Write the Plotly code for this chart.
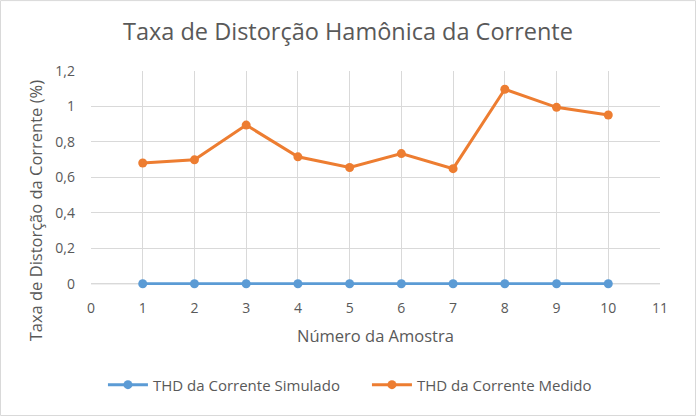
import plotly.graph_objects as go

amostras = [1, 2, 3, 4, 5, 6, 7, 8, 9, 10]
thd_simulado = [0, 0, 0, 0, 0, 0, 0, 0, 0, 0]
thd_medido = [0.681, 0.699, 0.895, 0.716, 0.656, 0.734, 0.649, 1.097, 0.995, 0.952]

FONT = "Open Sans"
GRAY = "#595959"

fig = go.Figure()
fig.add_trace(go.Scatter(x=amostras, y=thd_simulado, mode="lines+markers",
                         name="THD da Corrente Simulado", cliponaxis=False,
                         line=dict(color="#5B9BD5", width=3),
                         marker=dict(color="#5B9BD5", size=9)))
fig.add_trace(go.Scatter(x=amostras, y=thd_medido, mode="lines+markers",
                         name="THD da Corrente Medido", cliponaxis=False,
                         line=dict(color="#ED7D31", width=3),
                         marker=dict(color="#ED7D31", size=9)))

fig.update_layout(
    width=696, height=416,
    margin=dict(l=91, r=36, t=71, b=131, autoexpand=False),
    paper_bgcolor="white", plot_bgcolor="white",
    separators=",.",
    font=dict(family=FONT, color=GRAY, size=14),
    title=dict(text="Taxa de Distorção Hamônica da Corrente", x=0.5, xanchor="center",
               y=0.923, yanchor="middle", font=dict(size=23.5, color=GRAY, family=FONT)),
    xaxis=dict(range=[0, 11], dtick=1, tick0=0, showgrid=True, gridcolor="#D9D9D9",
               gridwidth=1, zeroline=False, showline=False, ticks="",
               tickfont=dict(size=14, color=GRAY), ticklabelstandoff=13),
    yaxis=dict(range=[-0.007, 1.2], dtick=0.2, tick0=0, showgrid=True, gridcolor="#D9D9D9",
               gridwidth=1, zeroline=False, showline=False, ticks="",
               tickfont=dict(size=14, color=GRAY), tickformat="~r", ticklabelstandoff=15),
    legend=dict(orientation="h", x=0.021, xanchor="left", y=-0.467, yanchor="middle",
                font=dict(size=15, color=GRAY), itemwidth=40, tracegroupgap=0,
                entrywidth=209, entrywidthmode="pixels"),
    showlegend=True,
)
fig.add_annotation(text="Número da Amostra", xref="paper", yref="paper", x=0.5, y=-0.238,
                   xanchor="center", yanchor="middle", showarrow=False,
                   font=dict(size=16.5, color=GRAY, family=FONT))
fig.add_annotation(text="Taxa de Distorção da Corrente (%)", xref="paper", yref="paper",
                   x=-0.098, y=0.35, textangle=-90, xanchor="center", yanchor="middle",
                   showarrow=False, font=dict(size=16.5, color=GRAY, family=FONT))
fig.add_shape(type="line", xref="paper", yref="y", x0=0, x1=1, y0=0, y1=0,
              line=dict(color="#BFBFBF", width=1), layer="below")
fig.add_shape(type="rect", xref="paper", yref="paper", x0=-0.159, x1=1.0624, y0=-0.6098, y1=1.329,
              line=dict(color="#D9D9D9", width=1))

fig.write_html("out.html", config={"displayModeBar": False},
               post_script="document.body.style.margin='0';")
